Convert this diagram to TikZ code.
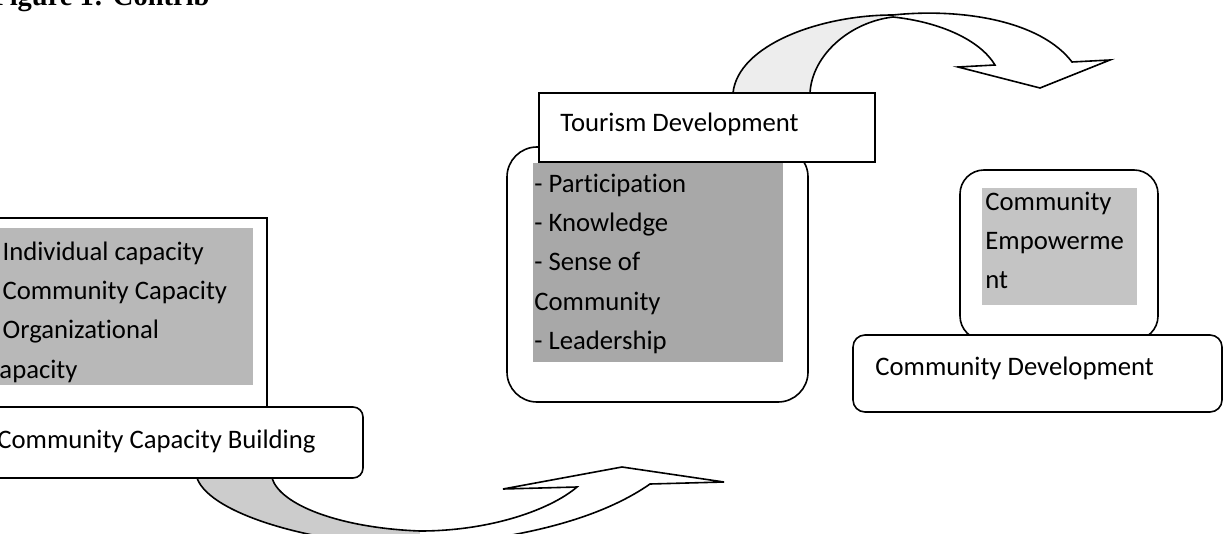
\documentclass[tikz,border=0pt]{standalone}
\usepackage{fontspec}
\setmainfont{Carlito}[Ligatures=NoCommon]
\newfontfamily\titlefont{Liberation Serif}
\definecolor{ccbgray}{gray}{0.72}
\definecolor{tdgray}{gray}{0.66}
\definecolor{cegray}{gray}{0.77}
\definecolor{ribbongray}{gray}{0.80}
\definecolor{ribbonlight}{gray}{0.93}
\begin{document}
\begin{tikzpicture}[x=0.5pt,y=-0.5pt,
    frame/.style={draw=black,line width=0.8pt,fill=white},
    label/.style={anchor=base west,inner sep=0pt,font=\fontsize{13.35}{19.6}\selectfont},
    list/.style={anchor=north west,inner sep=0pt,align=left,font=\fontsize{13.35}{19.6}\selectfont},
    ribbon/.style={draw=black,line width=0.8pt,line join=miter}]
\useasboundingbox (0,0) rectangle (1224,534);
\clip (0,0) rectangle (1224,534);
% title, cut at the top
\node (title) [anchor=base west,inner sep=0pt,font=\titlefont\bfseries\fontsize{14.25}{17}\selectfont] at (-8,6) {Figure 1: Contrib};
% lower curved arrow
\fill[ribbongray] (197,478) .. controls (210,515) and (320,546) .. (420,546) -- (420,531) .. controls (340,528) and (280,505) .. (272,478) -- cycle;
\fill[white] (420,531) .. controls (490,531) and (550,510) .. (577,487) -- (503,489) -- (622,467) -- (724,482) -- (650,484) .. controls (610,512) and (540,538) .. (420,546) -- cycle;
\draw[ribbon] (197,478) .. controls (210,515) and (320,546) .. (420,546) .. controls (540,538) and (610,512) .. (650,484) -- (724,482) -- (622,467) -- (503,489) -- (577,487) .. controls (550,510) and (490,531) .. (420,531) .. controls (340,528) and (280,505) .. (272,478);
% upper curved arrow
\fill[ribbonlight] (733,93) .. controls (738,45) and (820,15) .. (893,15) .. controls (850,22) and (812,55) .. (810,93) -- cycle;
\fill[white] (893,15) .. controls (960,8) and (1040,20) .. (1072,62) -- (1110,60) -- (1040,88) -- (958,67) -- (995,65) .. controls (980,40) and (940,22) .. (893,17) -- cycle;
\draw[ribbon] (733,93) .. controls (738,45) and (820,15) .. (893,15) .. controls (960,8) and (1040,20) .. (1072,62) -- (1110,60) -- (1040,88) -- (958,67) -- (995,65) .. controls (980,40) and (940,22) .. (893,17) .. controls (850,22) and (812,55) .. (810,93);
% community capacity building
\draw[frame] (-20,218) rectangle (267,408);
\fill[ccbgray] (-20,228) rectangle (253,385);
\node (caplist) [list] at (-12,232.6) {\strut- Individual capacity\\- Community Capacity\\- Organizational\\capacity};
\draw[frame,rounded corners=5pt] (-20,407) rectangle (363,478);
\node (ccb) [label] at (-3,448) {Community Capacity Building};
% tourism development
\draw[frame,rounded corners=15pt] (507,147) rectangle (808,402);
\fill[tdgray] (533,163) rectangle (783,362);
\node (tdlist) [list] at (534,164.6) {\strut- Participation\\- Knowledge\\- Sense of\\Community\\- Leadership};
\draw[frame] (539,93) rectangle (875,162);
\node (td) [label] at (560,132) {Tourism Development};
% community development
\draw[frame,rounded corners=12pt] (960,170) rectangle (1158,340);
\fill[cegray] (982,188) rectangle (1137,305);
\node (celist) [list] at (985,182.6) {\strut Community\\Empowerme\\nt};
\draw[frame,rounded corners=6pt] (853,335) rectangle (1222,412);
\node (cd) [label] at (875,375) {Community Development};
\end{tikzpicture}
\end{document}
